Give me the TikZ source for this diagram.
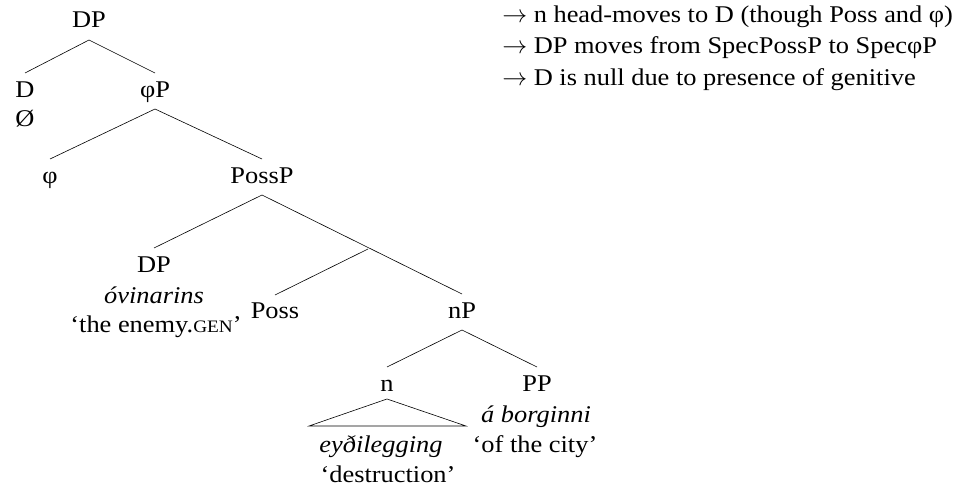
\documentclass[tikz,border=0pt]{standalone}
\usepackage{fontspec}
\setmainfont{Liberation Serif}[FakeStretch=1.1]
\usepackage{tikz}
\usetikzlibrary{positioning}

\begin{document}
\begin{tikzpicture}[x=1pt,y=-1pt,semithick]
\tikzstyle{every node}=[anchor=base,inner sep=0pt,font=\fontsize{24}{29}\selectfont]
\tikzstyle{note}=[anchor=base west]
\useasboundingbox (0,0) rectangle (966,487);

% tree
\node (dp)     at (89,28)   {DP};
\node (d)      at (25,97)   {D};
\node (dnull)  at (25,126)  {Ø};
\node (phip)   at (155,97)  {φP};
\node (phi)    at (50,183)  {φ};
\node (possp)  at (262,183) {PossP};
\node (dpspec) at (154,272) {DP};
\node (gen)    at (154,303) {\itshape óvinarins};
\node (gengl)  at (156,332) {‘the enemy.{\fontsize{17.5}{17.5}\selectfont GEN}’};
\node (poss)   at (275,318) {Poss};
\node (np)     at (462,318) {nP};
\node (n)      at (387,391) {n};
\node (pp)     at (537,391) {PP};
\node (noun)   at (381,452) {\itshape eyðilegging};
\node (noungl) at (388,482) {‘destruction’};
\node (ppw)    at (536,422) {\itshape á borginni};
\node (ppgl)   at (535,452) {‘of the city’};
\coordinate (possbar) at (368,249);

\foreach \a/\b in {dp/d,dp/phip,phip/phi,phip/possp,possp/dpspec,possp/np,np/n,np/pp}
  \draw ([yshift=-12pt]\a.base) -- ([yshift=24pt]\b.base);
\draw (possbar) -- ([yshift=23pt]poss.base);
\draw ([yshift=-8pt]n.base) -- ([shift={(-78pt,-35pt)}]n.base)
  -- ([shift={(79pt,-35pt)}]n.base) -- cycle;

% notes
\node[note] (note1) at (502,23) {$\rightarrow$ n head-moves to D (though Poss and φ)};
\node[note] (note2) at (502,54) {$\rightarrow$ DP moves from SpecPossP to SpecφP};
\node[note] (note3) at (502,85) {$\rightarrow$ D is null due to presence of genitive};
\end{tikzpicture}
\end{document}
